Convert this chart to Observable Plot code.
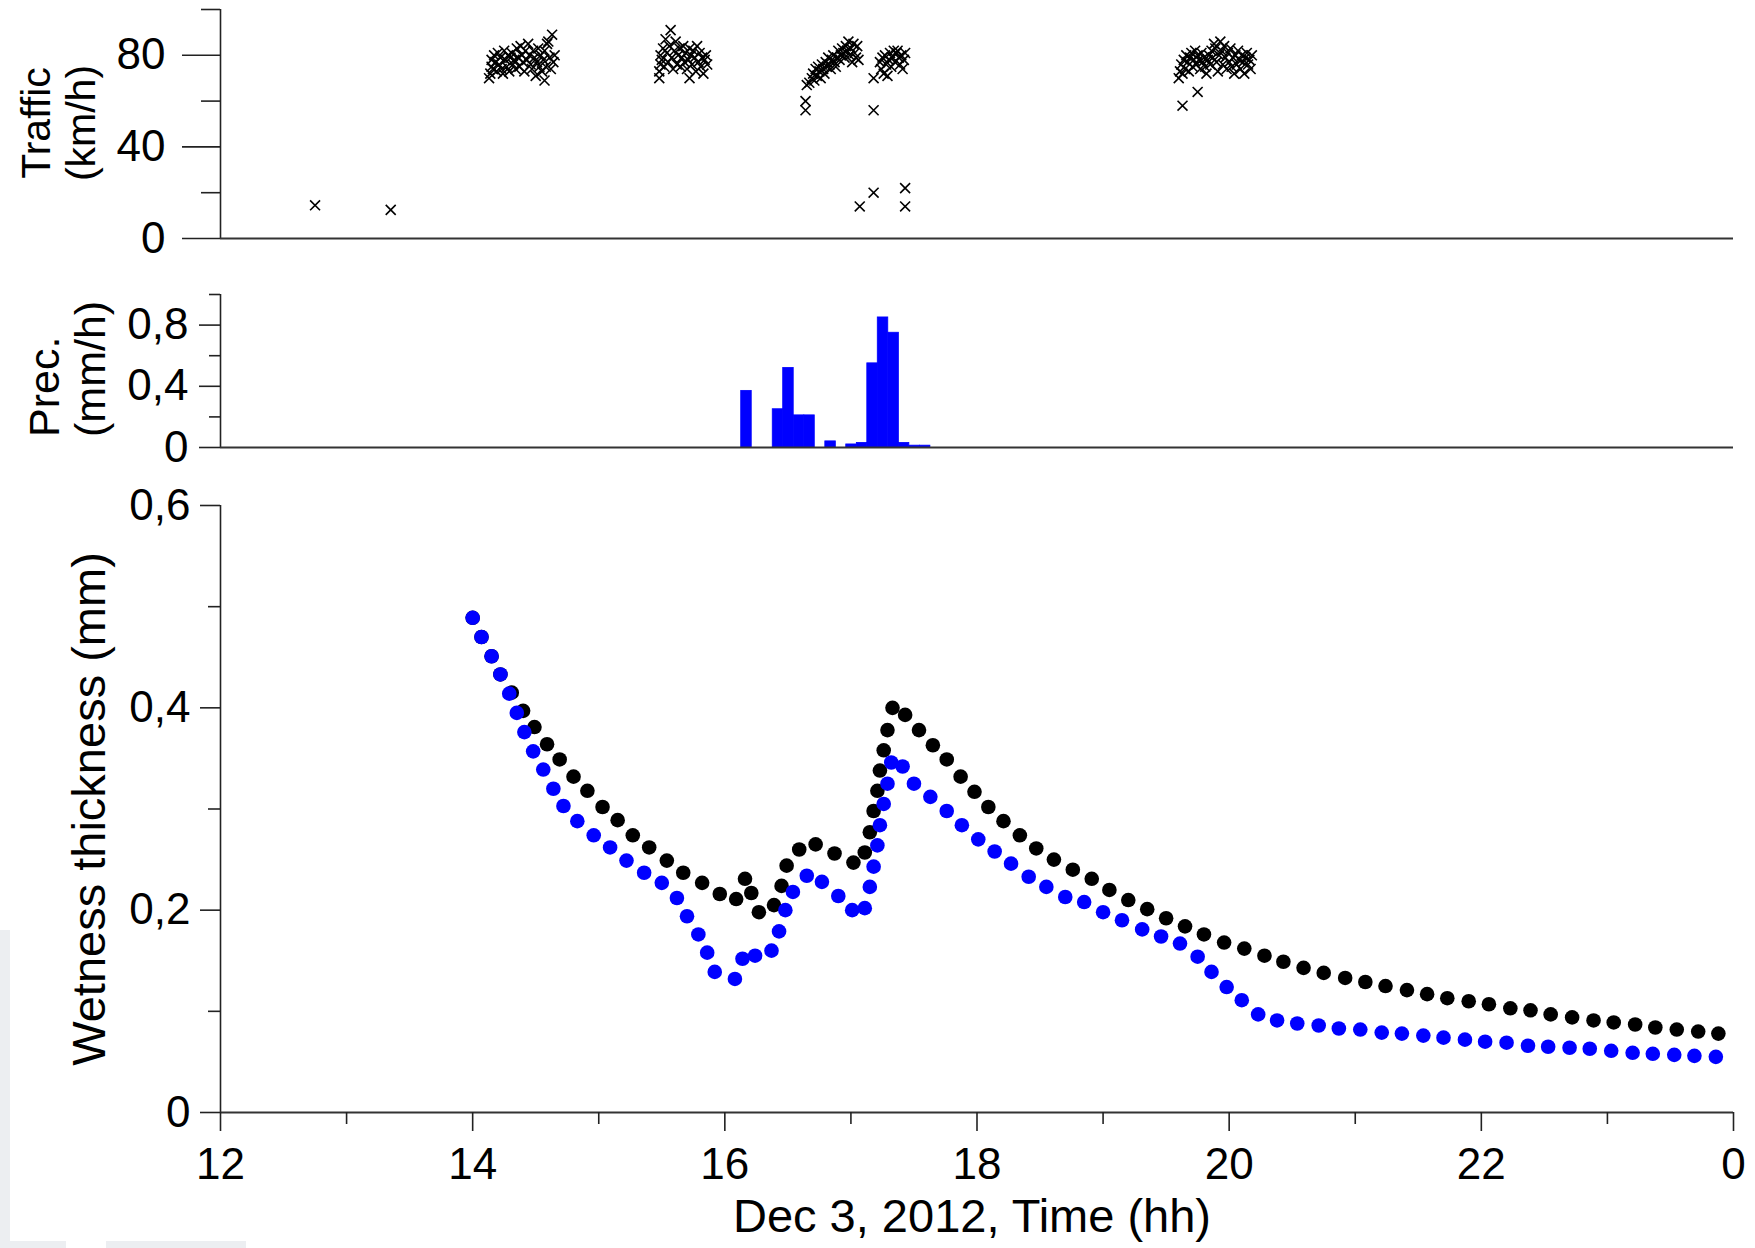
<!DOCTYPE html>
<html><head><meta charset="utf-8">
<script src="https://cdn.jsdelivr.net/npm/d3@7"></script>
<script src="https://cdn.jsdelivr.net/npm/@observablehq/plot@0.6"></script>
<style>
html,body{margin:0;padding:0;background:#fff;overflow:hidden;}
#wrap{position:relative;width:1755px;height:1248px;overflow:hidden;font-family:"Liberation Sans",Arial,sans-serif;}
#wrap svg{position:absolute;left:0;display:block;overflow:visible;}
.strip{position:absolute;background:#eceef1;}
</style></head><body><div id="wrap">
<div class="strip" style="left:0;top:930px;width:10px;height:318px"></div>
<div class="strip" style="left:0;top:1241px;width:66px;height:7px"></div>
<div class="strip" style="left:106px;top:1241px;width:140px;height:7px"></div>
</div>
<script>
// ---------- DATA ----------
const xMajor = [12, 14, 16, 18, 20, 22, 24];
const xMajorLabels = ["12", "14", "16", "18", "20", "22", "0"];
const xMinor = [13, 15, 17, 19, 21, 23];

const trafficMajor = [0, 40, 80];
const trafficMajorLabels = ["0", "40", "80"];
const trafficMinor = [20, 60, 100];

const precMajor = [0, 0.4, 0.8];
const precMajorLabels = ["0", "0,4", "0,8"];
const precMinor = [0.2, 0.6, 1.0];

const wetMajor = [0, 0.2, 0.4, 0.6];
const wetMajorLabels = ["0", "0,2", "0,4", "0,6"];
const wetMinor = [0.1, 0.3, 0.5];

// Traffic speed (time in hours, km/h)
const trafficCluster1 = [
[14.13,70],[14.14,72],[14.15,75],[14.15,78],[14.16,74],[14.17,80],[14.18,77],[14.19,73],[14.20,81],[14.21,76],
[14.22,79],[14.23,74],[14.24,72],[14.25,82],[14.26,78],[14.27,75],[14.28,80],[14.29,73],[14.30,79],[14.31,81],
[14.32,76],[14.33,78],[14.34,74],[14.35,83],[14.36,79],[14.37,75],[14.38,84],[14.39,80],[14.40,77],[14.41,73],
[14.42,82],[14.43,78],[14.44,85],[14.45,80],[14.46,76],[14.47,74],[14.48,82],[14.49,79],[14.50,71],[14.51,77],
[14.52,83],[14.53,75],[14.54,80],[14.55,73],[14.56,78],[14.57,82],[14.58,75],[14.59,85],[14.60,86],[14.61,79],
[14.62,74],[14.63,89],[14.64,77],[14.65,80],[14.57,69]
];
const trafficCluster2 = [
[15.48,70],[15.48,73],[15.49,76],[15.49,80],[15.50,78],[15.51,83],[15.52,75],[15.53,87],[15.54,81],[15.55,77],
[15.56,84],[15.57,91],[15.58,79],[15.59,74],[15.60,82],[15.61,86],[15.62,76],[15.63,80],[15.64,83],[15.65,75],
[15.66,79],[15.67,84],[15.68,77],[15.69,81],[15.70,74],[15.71,78],[15.72,83],[15.73,80],[15.74,76],[15.75,82],
[15.76,79],[15.77,73],[15.78,84],[15.79,77],[15.80,81],[15.81,75],[15.82,79],[15.83,72],[15.84,78],[15.85,80],
[15.86,76],[15.72,70]
];
const trafficCluster3 = [
[16.64,60],[16.64,56],[16.65,67],[16.67,68],[16.69,70],[16.70,72],[16.71,69],[16.72,74],[16.73,71],[16.74,75],
[16.75,73],[16.76,70],[16.77,76],[16.78,74],[16.79,72],[16.80,77],[16.81,75],[16.82,79],[16.83,76],[16.84,74],
[16.85,78],[16.86,80],[16.87,77],[16.88,75],[16.89,79],[16.90,82],[16.91,78],[16.92,80],[16.93,83],[16.94,81],
[16.95,79],[16.96,84],[16.97,82],[16.98,86],[16.99,80],[17.00,83],[17.01,77],[17.02,85],[17.03,81],[17.04,79],
[17.05,84],[17.06,78]
];
const trafficCluster4 = [
[17.23,77],[17.24,74],[17.25,79],[17.26,72],[17.27,80],[17.28,76],[17.29,71],[17.30,78],[17.31,81],[17.32,75],
[17.33,79],[17.34,82],[17.35,77],[17.36,81],[17.37,82],[17.38,79],[17.39,76],[17.40,80],[17.41,74],[17.42,78],
[17.43,81]
];
const trafficCluster5 = [
[19.63,58],[19.75,64],[19.60,70],[19.61,73],[19.62,76],[19.63,72],[19.64,78],[19.65,74],[19.66,80],[19.67,77],
[19.68,73],[19.69,79],[19.70,81],[19.71,75],[19.72,78],[19.73,82],[19.74,76],[19.75,80],[19.76,78],[19.77,74],
[19.78,81],[19.79,77],[19.80,79],[19.81,75],[19.82,72],[19.83,78],[19.84,80],[19.85,76],[19.86,82],[19.87,79],
[19.88,85],[19.89,83],[19.90,77],[19.91,73],[19.92,80],[19.93,86],[19.94,82],[19.95,76],[19.96,84],[19.97,79],
[19.98,74],[19.99,81],[20.00,77],[20.01,83],[20.02,75],[20.03,79],[20.04,72],[20.05,80],[20.06,76],[20.07,82],
[20.08,78],[20.09,74],[20.10,80],[20.11,77],[20.12,72],[20.13,79],[20.14,81],[20.15,76],[20.16,78],[20.17,74],
[20.18,80]
];
const trafficOutliers = [
[12.75,14.5],[13.35,12.5],[17.18,70],[17.18,56],[17.07,14],[17.18,20],[17.43,22],[17.43,14]
];

// Precipitation (5-minute bins: start hour, mm/h)
const precBinHours = 5 / 60;
const precStart = [16.13, 16.38, 16.463, 16.547, 16.63, 16.797, 16.963, 17.047, 17.13, 17.213, 17.297, 17.38, 17.463, 17.547];
const precValue = [0.37, 0.25, 0.52, 0.21, 0.21, 0.04, 0.02, 0.03, 0.55, 0.85, 0.75, 0.03, 0.012, 0.012];

// Wetness thickness (hour, mm)
const wetBlack = [
[14.00,0.489],[14.07,0.470],[14.15,0.451],[14.22,0.433],[14.31,0.415],[14.40,0.397],[14.49,0.381],[14.59,0.364],[14.69,0.349],
[14.80,0.332],[14.91,0.318],[15.03,0.302],[15.15,0.289],[15.27,0.274],[15.40,0.262],[15.54,0.249],[15.67,0.237],
[15.82,0.227],[15.96,0.216],[16.09,0.211],[16.16,0.231],[16.21,0.217],[16.27,0.198],[16.39,0.205],[16.45,0.224],
[16.49,0.244],[16.59,0.260],[16.72,0.265],[16.87,0.256],[17.02,0.247],[17.11,0.257],[17.15,0.277],[17.18,0.298],
[17.21,0.318],[17.23,0.338],[17.26,0.358],[17.29,0.378],[17.33,0.400],[17.43,0.393],[17.54,0.378],[17.65,0.363],
[17.76,0.349],[17.87,0.332],[17.98,0.317],[18.09,0.302],[18.21,0.288],[18.34,0.274],[18.47,0.261],[18.61,0.250],
[18.76,0.240],[18.91,0.231],[19.05,0.220],[19.20,0.210],[19.35,0.201],[19.50,0.192],[19.65,0.184],[19.80,0.176],
[19.96,0.168],[20.12,0.162],[20.28,0.155],[20.43,0.149],[20.59,0.143],[20.75,0.138],[20.92,0.133],[21.08,0.129],
[21.24,0.125],[21.41,0.121],[21.57,0.117],[21.73,0.113],[21.90,0.110],[22.06,0.107],[22.23,0.103],[22.39,0.101],
[22.55,0.097],[22.72,0.094],[22.89,0.091],[23.05,0.089],[23.22,0.087],[23.38,0.084],[23.55,0.082],[23.72,0.080],
[23.88,0.078]
];
const wetBlue = [
[14.00,0.489],[14.07,0.470],[14.15,0.451],[14.22,0.433],[14.29,0.414],[14.35,0.395],[14.41,0.376],[14.48,0.357],
[14.56,0.339],[14.64,0.320],[14.72,0.303],[14.83,0.288],[14.96,0.274],[15.09,0.262],[15.22,0.249],[15.36,0.237],
[15.50,0.227],[15.62,0.212],[15.70,0.194],[15.79,0.176],[15.86,0.158],[15.92,0.139],[16.08,0.132],[16.14,0.152],
[16.24,0.155],[16.37,0.160],[16.43,0.179],[16.48,0.200],[16.54,0.218],[16.65,0.234],[16.77,0.228],[16.90,0.214],
[17.01,0.200],[17.11,0.202],[17.15,0.223],[17.18,0.243],[17.21,0.264],[17.23,0.284],[17.26,0.305],[17.29,0.325],
[17.32,0.346],[17.41,0.342],[17.50,0.325],[17.63,0.312],[17.76,0.298],[17.88,0.284],[18.01,0.270],[18.14,0.258],
[18.27,0.246],[18.41,0.233],[18.55,0.223],[18.70,0.213],[18.85,0.208],[19.00,0.198],[19.15,0.190],[19.31,0.181],
[19.46,0.174],[19.61,0.167],[19.75,0.154],[19.86,0.139],[19.98,0.124],[20.10,0.111],[20.23,0.097],[20.38,0.091],
[20.54,0.088],[20.71,0.086],[20.87,0.083],[21.04,0.082],[21.21,0.079],[21.37,0.078],[21.54,0.076],[21.70,0.074],
[21.87,0.072],[22.03,0.070],[22.20,0.069],[22.37,0.066],[22.53,0.065],[22.70,0.064],[22.86,0.063],[23.03,0.061],
[23.20,0.059],[23.36,0.058],[23.53,0.057],[23.69,0.056],[23.86,0.055]
];

const trafficTitle = "Traffic\n(km/h)";
const precTitle = "Prec.\n(mm/h)";
const wetTitle = "Wetness thickness (mm)";
const timeTitle = "Dec 3, 2012, Time (hh)";

// ---------- BUILD ----------
const W = 1755;
const FONT = "'Liberation Sans', Arial, Helvetica, sans-serif";
const AX = "#222";
const common = {
  width: W, marginLeft: 220, marginRight: 22,
  x: {domain: [12, 24], axis: null, label: null},
  style: {fontFamily: FONT, fontSize: "44px", color: "black", background: "transparent", overflow: "visible"}
};
const labelFrom = (ticks, labels) => d => labels[ticks.indexOf(d)];
const toObj = arr => arr.map(([t, v]) => ({t, v}));

const traffic = toObj([...trafficCluster1, ...trafficCluster2, ...trafficCluster3, ...trafficCluster4, ...trafficCluster5, ...trafficOutliers]);
const prec = precStart.map((s, i) => ({start: s, end: s + precBinHours, v: precValue[i]}));

const p1 = Plot.plot({
  ...common, height: 250, marginTop: 9, marginBottom: 12,
  y: {domain: [0, 100], axis: null, label: null},
  marks: [
    Plot.dot(traffic, {x: "t", y: "v", symbol: "times", r: 4.6, stroke: "black", strokeWidth: 1.6}),
    Plot.ruleX([12], {stroke: AX, strokeWidth: 1.6}),
    Plot.ruleY([0], {stroke: "#333", strokeWidth: 2.2}),
    Plot.axisY(trafficMajor, {tickSize: 38, tickPadding: 17, fontSize: 44, stroke: AX, strokeWidth: 1.6, fill: "black", label: null, tickFormat: labelFrom(trafficMajor, trafficMajorLabels)}),
    Plot.axisY(trafficMinor, {tickSize: 19, stroke: AX, strokeWidth: 1.6, label: null, tickFormat: () => ""}),
    Plot.text([trafficTitle], {text: d => d, frameAnchor: "left", rotate: -90, dx: -162, dy: -1, fontSize: 41, lineHeight: 1.1, textAnchor: "middle", lineAnchor: "middle", fill: "black"})
  ]
});

const p2 = Plot.plot({
  ...common, height: 220, marginTop: 44, marginBottom: 23,
  y: {domain: [0, 1], axis: null, label: null},
  marks: [
    Plot.rectY(prec, {x1: "start", x2: "end", y: "v", fill: "#0000ff", stroke: "#0000ff", strokeWidth: 0.8}),
    Plot.ruleX([12], {stroke: AX, strokeWidth: 1.6}),
    Plot.ruleY([0], {stroke: "#333", strokeWidth: 2.2}),
    Plot.axisY(precMajor, {tickSize: 21, tickPadding: 11, fontSize: 44, stroke: AX, strokeWidth: 1.6, fill: "black", label: null, tickFormat: labelFrom(precMajor, precMajorLabels)}),
    Plot.axisY(precMinor, {tickSize: 11, stroke: AX, strokeWidth: 1.6, label: null, tickFormat: () => ""}),
    Plot.text([precTitle], {text: d => d, frameAnchor: "left", rotate: -90, dx: -153, dy: 66, fontSize: 43, lineHeight: 1.05, textAnchor: "start", lineAnchor: "middle", fill: "black"})
  ]
});

const p3 = Plot.plot({
  ...common, height: 778, marginTop: 35, marginBottom: 136,
  y: {domain: [0, 0.6], axis: null, label: null},
  marks: [
    Plot.ruleX([12], {stroke: AX, strokeWidth: 1.6}),
    Plot.ruleY([0], {stroke: "#333", strokeWidth: 2.2}),
    Plot.axisY(wetMajor, {tickSize: 20, tickPadding: 10, fontSize: 44, stroke: AX, strokeWidth: 1.6, fill: "black", label: null, tickFormat: labelFrom(wetMajor, wetMajorLabels)}),
    Plot.axisY(wetMinor, {tickSize: 12, stroke: AX, strokeWidth: 1.6, label: null, tickFormat: () => ""}),
    Plot.axisX(xMajor, {tickSize: 19, tickPadding: 16, fontSize: 44, stroke: AX, strokeWidth: 1.6, fill: "black", label: null, tickFormat: labelFrom(xMajor, xMajorLabels)}),
    Plot.axisX(xMinor, {tickSize: 12, stroke: AX, strokeWidth: 1.6, label: null, tickFormat: () => ""}),
    Plot.dot(toObj(wetBlack), {x: "t", y: "v", r: 7.3, fill: "black"}),
    Plot.dot(toObj(wetBlue), {x: "t", y: "v", r: 7.3, fill: "#0000ff"}),
    Plot.text([wetTitle], {text: d => d, frameAnchor: "left", rotate: -90, dx: -131, dy: 0, fontSize: 47, textAnchor: "middle", lineAnchor: "middle", fill: "black"}),
    Plot.text([timeTitle], {text: d => d, frameAnchor: "bottom", dx: -5, dy: 104, fontSize: 47, textAnchor: "middle", lineAnchor: "middle", fill: "black"})
  ]
});

const wrap = document.getElementById("wrap");
[[p1, 0], [p2, 250], [p3, 470]].forEach(([svg, top]) => {
  svg.style.top = top + "px";
  wrap.appendChild(svg);
});
</script></body></html>
